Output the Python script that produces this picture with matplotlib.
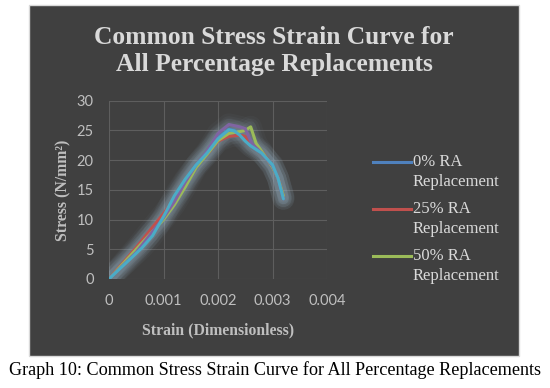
import matplotlib
matplotlib.use("Agg")
import matplotlib.pyplot as plt
from matplotlib.patches import Rectangle
from matplotlib.lines import Line2D

# --- data ---
strain_0 = [0, 0.0005, 0.001, 0.0012, 0.0014, 0.0016, 0.0018, 0.002, 0.0022, 0.0023,
            0.0024, 0.0025, 0.0026, 0.0028, 0.003, 0.0031, 0.0032]
stress_0 = [0, 4.8, 10.5, 13.6, 16.6, 19.2, 21.3, 23.8, 25.2, 25.0,
            24.4, 23.4, 22.4, 21.2, 19.2, 17.0, 13.5]

strain_25 = [0, 0.0005, 0.001, 0.0012, 0.0014, 0.0016, 0.0018, 0.002, 0.0022, 0.0024,
             0.0025, 0.0026, 0.0028, 0.003, 0.0031, 0.0032]
stress_25 = [0, 5.3, 11.0, 13.5, 16.0, 19.0, 21.0, 23.2, 24.0, 24.2,
             24.0, 22.7, 21.5, 19.0, 17.0, 13.8]

strain_50 = [0, 0.0005, 0.001, 0.0012, 0.0014, 0.0016, 0.0018, 0.002, 0.0022, 0.0024,
             0.0025, 0.0026, 0.0027, 0.0028, 0.003, 0.0031, 0.0032]
stress_50 = [0, 5.0, 10.0, 12.5, 15.5, 18.8, 21.0, 23.3, 24.5, 24.8,
             25.0, 25.6, 22.8, 21.5, 18.8, 17.0, 14.0]

strain_75 = [0, 0.0005, 0.001, 0.0012, 0.0014, 0.0016, 0.0018, 0.002, 0.0022, 0.0024,
             0.0025, 0.00262, 0.0028, 0.003, 0.0031, 0.0032]
stress_75 = [0, 4.5, 10.3, 13.0, 16.3, 19.2, 21.5, 24.5, 26.0, 25.6,
             25.3, 22.8, 21.2, 19.0, 17.0, 13.5]

strain_100 = [0, 0.0003, 0.0006, 0.0008, 0.001, 0.0012, 0.0014, 0.0016, 0.0018, 0.002,
              0.0022, 0.0023, 0.0024, 0.0025, 0.0026, 0.0028, 0.003, 0.0031, 0.0032]
stress_100 = [0, 2.6, 5.2, 7.3, 10.5, 14.0, 16.8, 19.2, 21.2, 23.6,
              25.1, 24.9, 24.2, 23.2, 22.4, 21.2, 19.2, 17.0, 13.5]

labels = ["0% RA\nReplacement", "25% RA\nReplacement", "50% RA\nReplacement",
          "75% RA\nReplacement", "100% RA\nReplacement"]
series = [(strain_0, stress_0), (strain_25, stress_25), (strain_50, stress_50),
          (strain_75, stress_75), (strain_100, stress_100)]
colors = ["#4F81BD", "#C0504D", "#9BBB59", "#8064A2", "#4BACC6"]

x_ticks = [0, 0.001, 0.002, 0.003, 0.004]
x_tick_labels = ["0", "0.001", "0.002", "0.003", "0.004"]
y_ticks = [0, 5, 10, 15, 20, 25, 30]

BG = "#404040"
SERIF = "Liberation Serif"
W, H = 550, 388

fig = plt.figure(figsize=(5.5, 3.88), dpi=100)
fig.patch.set_facecolor("white")

# dark chart box, drawn behind everything
fig.patches.append(Rectangle((29 / W, 1 - 356 / H), 490 / W, 351 / H,
                             transform=fig.transFigure, facecolor=BG,
                             edgecolor="#D9D9D9", linewidth=1, zorder=-10))

ax = fig.add_axes([109 / W, 1 - 279 / H, 218 / W, 178.3 / H])
ax.patch.set_alpha(0)

# soft glow behind curves
for xs, ys in series:
    for w, a in [(16, 0.035), (12, 0.045), (8, 0.06)]:
        ax.plot(xs, ys, color="#A8C4D8", lw=w, alpha=a, solid_capstyle="round",
                solid_joinstyle="round", zorder=2)

for (xs, ys), c, lab in zip(series, colors, labels):
    ax.plot(xs, ys, color=c, lw=2.2, solid_capstyle="round",
            solid_joinstyle="round", label=lab, zorder=3)

ax.set_xlim(0, 0.004)
ax.set_ylim(0, 30)
ax.set_xticks(x_ticks)
ax.set_xticklabels(x_tick_labels)
ax.set_yticks(y_ticks)
ax.grid(True, color="#5E5E5E", lw=0.8)
ax.set_axisbelow(True)
for s in ax.spines.values():
    s.set_visible(False)
ax.tick_params(length=0, colors="#BFBFBF", labelsize=10.5)
ax.tick_params(axis="x", pad=11)
ax.tick_params(axis="y", pad=11)
for t in ax.get_xticklabels() + ax.get_yticklabels():
    t.set_family("Lato")

ax.set_xlabel("Strain (Dimensionless)", family=SERIF, fontweight="bold",
              fontsize=11.3, color="#BFBFBF", labelpad=10)
ax.set_ylabel("Stress (N/mm²)", family=SERIF, fontweight="bold",
              fontsize=11.3, color="#BFBFBF", labelpad=4)

fig.text(274 / W, 1 - 51 / H, "Common Stress Strain Curve for\nAll Percentage Replacements",
         ha="center", va="center", family=SERIF, fontweight="bold", fontsize=18.4,
         color="#D9D9D9", linespacing=1.2)

# legend drawn by hand: only the first three entries fit in the reference,
# handle sits level with the first text line
for i in range(3):
    y = 1 - (162 + 47 * i) / H
    fig.add_artist(Line2D([373 / W, 411 / W], [y, y], transform=fig.transFigure,
                          color=colors[i], lw=2.2))
    fig.text(413 / W, y + 8 / H, labels[i], ha="left", va="top", family=SERIF,
             fontsize=12, color="#D9D9D9", linespacing=1.3)

fig.text(275 / W, 1 - 370 / H,
         "Graph 10: Common Stress Strain Curve for All Percentage Replacements",
         ha="center", va="center", family=SERIF, fontsize=13.1, color="black")

fig.savefig("out.png", dpi=100, facecolor=fig.get_facecolor())
